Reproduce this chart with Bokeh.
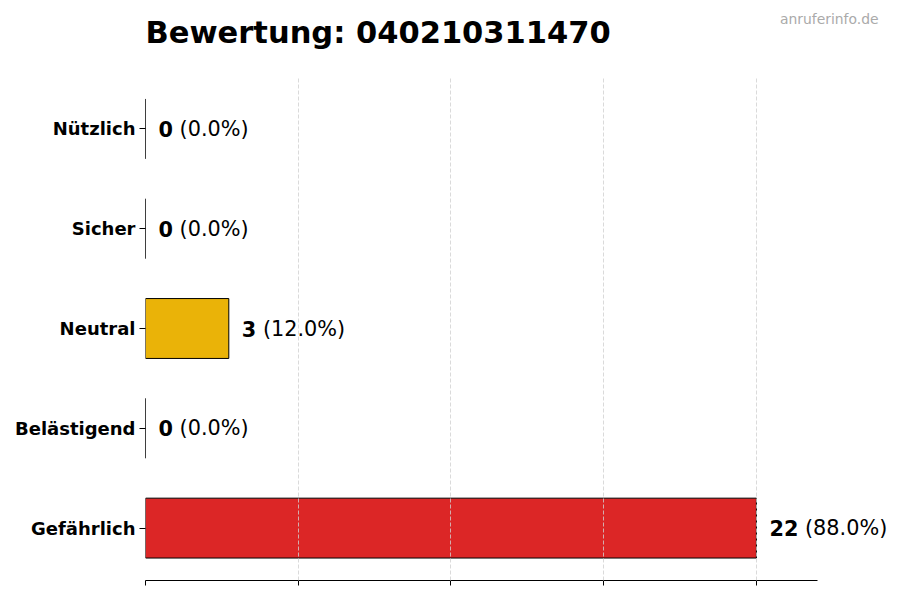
from bokeh.plotting import figure
from bokeh.layouts import column
from bokeh.models import Range1d, FixedTicker, ColumnDataSource
from bokeh.core.properties import value
from bokeh.embed import file_html
from bokeh.resources import INLINE

title_text = "Bewertung: 040210311470"
watermark = "anruferinfo.de"
categories = ["Nützlich", "Sicher", "Neutral", "Belästigend", "Gefährlich"]
counts = [0, 0, 3, 0, 22]
colors = ["#16a34a", "#2563eb", "#eab308", "#f97316", "#dc2626"]

FONT = "DejaVu Sans"
FS_VAL = 20.8
W = 892
HEAD_H = 76
MAIN_H = 516
LEFT = 145
AXIS_RIGHT = 817

total = sum(counts)
n = len(categories)
ypos = [n - 1 - i for i in range(n)]
max_val = max(counts)
ticks = [max_val * i / 4 for i in range(5)]
x_end = max_val * 1.1
x_frame_end = x_end * (W - LEFT) / (AXIS_RIGHT - LEFT)
y_start, y_end = -0.525, n - 1 + 0.525

num_txt = [str(c) for c in counts]
pct_txt = ["(%.1f%%)" % (c / total * 100) for c in counts]
off_num = [13] * n
off_pct = [13 + len(s) * 0.696 * FS_VAL + 0.318 * FS_VAL for s in num_txt]

src = ColumnDataSource(dict(y=ypos, x=counts, color=colors, num=num_txt,
                            pct=pct_txt, off_num=off_num, off_pct=off_pct))

# ---- header (title + watermark), coordinates in pixels
h = figure(width=W, height=HEAD_H, output_backend="svg", toolbar_location=None,
           x_range=Range1d(LEFT, W), y_range=Range1d(0, HEAD_H),
           x_axis_location=None, y_axis_location=None, title=None,
           min_border_left=LEFT, min_border_right=0, min_border_top=0,
           min_border_bottom=0)
h.outline_line_color = None
h.xgrid.visible = False
h.ygrid.visible = False
h.text(x=[LEFT], y=[HEAD_H - 31.6], text=[title_text],
       text_font=value(FONT), text_font_style="bold", text_font_size="30.5px",
       text_baseline="middle", text_align="left", text_color="black")
h.text(x=[878], y=[HEAD_H - 18.5], text=[watermark],
       text_font=value(FONT), text_font_style="normal", text_font_size="13.9px",
       text_baseline="middle", text_align="right", text_color="#aaaaaa")

# ---- main chart
p = figure(width=W, height=MAIN_H, output_backend="svg", toolbar_location=None,
           x_range=Range1d(0, x_frame_end), y_range=Range1d(y_start, y_end),
           title=None, min_border_left=LEFT, min_border_right=0,
           min_border_top=0, min_border_bottom=12)
p.outline_line_color = None
p.background_fill_color = "white"

p.hbar(y="y", left=0, right="x", height=0.6, fill_color="color",
       line_color="black", line_width=1, source=src)

p.text(x="x", y="y", text="num", x_offset="off_num", source=src,
       text_font=value(FONT), text_font_style="bold",
       text_font_size="%.1fpx" % FS_VAL, text_baseline="middle",
       text_align="left", text_color="black")
p.text(x="x", y="y", text="pct", x_offset="off_pct", source=src,
       text_font=value(FONT), text_font_style="normal",
       text_font_size="%.1fpx" % FS_VAL, text_baseline="middle",
       text_align="left", text_color="black")

# x axis
p.xaxis.ticker = FixedTicker(ticks=ticks)
p.xaxis.bounds = (0, x_end)
p.xaxis.major_label_overrides = {t: "" for t in ticks}
p.xaxis.major_label_text_font_size = "0px"
p.xaxis.major_label_standoff = 0
p.xaxis.major_tick_out = 5
p.xaxis.major_tick_in = 0
p.xaxis.minor_tick_line_color = None
p.xaxis.axis_line_color = "black"
p.xaxis.major_tick_line_color = "black"

# y axis
p.yaxis.ticker = FixedTicker(ticks=ypos)
p.yaxis.major_label_overrides = {y: c for y, c in zip(ypos, categories)}
p.yaxis.major_label_text_font = FONT
p.yaxis.major_label_text_font_style = "bold"
p.yaxis.major_label_text_font_size = "18px"
p.yaxis.major_label_text_color = "black"
p.yaxis.major_label_standoff = 4
p.yaxis.major_tick_out = 6
p.yaxis.major_tick_in = 0
p.yaxis.minor_tick_line_color = None
p.yaxis.axis_line_color = None
p.yaxis.major_tick_line_color = "black"

# grid
p.ygrid.grid_line_color = None
p.xgrid.ticker = FixedTicker(ticks=ticks)
p.xgrid.grid_line_color = "#d0d0d0"
p.xgrid.grid_line_dash = "4 2"
p.xgrid.grid_line_width = 0.8
p.xgrid.level = "overlay"

layout = column(h, p, spacing=0)
open("out.html", "w").write(file_html(layout, INLINE))
